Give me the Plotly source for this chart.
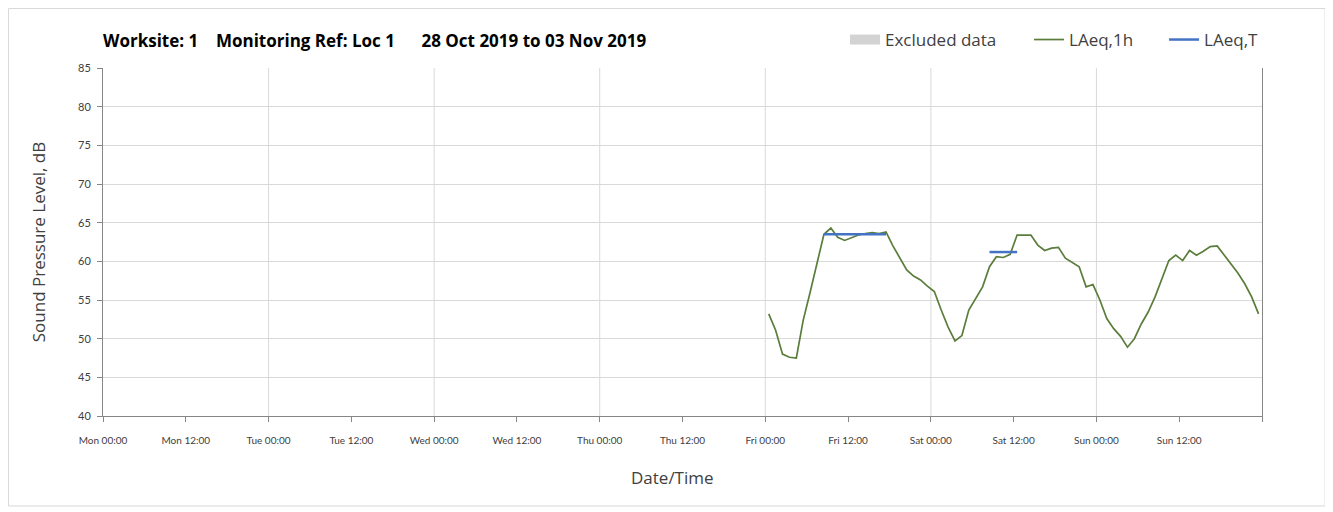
import plotly.graph_objects as go
import pandas as pd

# ---- data ----
hour_times = pd.date_range("2019-11-01 00:30", periods=72, freq="h")
laeq_1h = [53.2, 51.1, 48.0, 47.6, 47.5, 52.4, 56.0, 59.9, 63.5, 64.3,
           63.1, 62.7, 63.1, 63.4, 63.6, 63.7, 63.6, 63.8, 62.0, 60.5,
           58.9, 58.1, 57.6, 56.8, 56.1, 53.7, 51.5, 49.7, 50.4, 53.7,
           55.2, 56.7, 59.3, 60.6, 60.5, 60.9, 63.4, 63.4, 63.4, 62.1,
           61.4, 61.7, 61.8, 60.4, 59.9, 59.3, 56.7, 57.0, 55.0, 52.6,
           51.3, 50.3, 48.9, 50.0, 51.9, 53.45, 55.4, 57.8, 60.1, 60.8,
           60.1, 61.4, 60.8, 61.3, 61.9, 62.0, 60.8, 59.7, 58.5, 57.1,
           55.4, 53.2]
# LAeq,T periods: (first hour index, last hour index, level)
laeq_T_periods = [(8, 17, 63.5), (32, 36, 61.2)]
excluded_times = []
excluded_vals = []

week_start = "2019-10-28 00:00"
week_end = "2019-11-04 00:00"
x_tick_times = pd.date_range(week_start, week_end, freq="12h")
x_tick_labels = [t.strftime("%a %H:%M") for t in x_tick_times[:-1]] + [""]
day_lines = pd.date_range("2019-10-29", periods=6, freq="D")
y_ticks = list(range(40, 86, 5))

NB = "\u00a0"
title_text = "Worksite: 1" + NB * 4 + "Monitoring Ref: Loc 1" + NB * 6 + "28 Oct 2019 to 03 Nov 2019"

# build LAeq,T series with gaps
laeq_T = [None] * len(hour_times)
for a, b, v in laeq_T_periods:
    for i in range(a, b + 1):
        laeq_T[i] = v

FONT = "Open Sans"
TICKFONT = "Lato"
GREEN = "#5a7d3c"
BLUE = "#4472c4"

fig = go.Figure()
fig.add_trace(go.Scatter(x=excluded_times if excluded_times else [None],
                         y=excluded_vals if excluded_vals else [None],
                         name="Excluded data", mode="lines",
                         line=dict(color="#d3d3d3", width=10),
                         legend="legend"))
fig.add_trace(go.Scatter(x=hour_times, y=laeq_1h, name="LAeq,1h", mode="lines",
                         line=dict(color=GREEN, width=1.7), legend="legend2"))
fig.add_trace(go.Scatter(x=hour_times, y=laeq_T, name="LAeq,T", mode="lines",
                         line=dict(color=BLUE, width=2.5), connectgaps=False,
                         legend="legend3"))

shapes = []
for d in day_lines:
    shapes.append(dict(type="line", xref="x", yref="paper", x0=d, x1=d, y0=0, y1=1,
                       line=dict(color="#d9d9d9", width=1), layer="below"))
# outer chart border
shapes.append(dict(type="rect", xref="paper", yref="paper",
                   x0=-0.0815, x1=1.0544, y0=-0.2586, y1=1.171,
                   line=dict(color="#d9d9d9", width=1)))

legend_common = dict(orientation="h", y=1.0805, yanchor="middle", xanchor="left",
                     font=dict(family=FONT, size=17, color="#404040"),
                     bgcolor="rgba(0,0,0,0)", borderwidth=0)

fig.update_layout(
    width=1333, height=512,
    margin=dict(l=95, r=79, t=60, b=104),
    paper_bgcolor="white", plot_bgcolor="white",
    font=dict(family=FONT, color="#404040", size=11),
    title=dict(text=f"<b>{title_text}</b>", x=95 / 1333, xanchor="left",
               y=1 - 33 / 512, yanchor="middle",
               font=dict(family=FONT, size=17, color="#000000")),
    showlegend=True,
    legend=dict(x=0.6402, **legend_common),
    legend2=dict(x=0.799, **legend_common),
    legend3=dict(x=0.9155, **legend_common),
    shapes=shapes,
    annotations=[dict(text="Date/Time", xref="paper", yref="paper",
                      x=0.4918, y=-0.178, xanchor="center", yanchor="middle",
                      showarrow=False,
                      font=dict(family=FONT, size=17, color="#404040"))],
    xaxis=dict(type="date", range=[week_start, week_end],
               tickmode="array", tickvals=x_tick_times, ticktext=x_tick_labels,
               showgrid=False,
               ticks="outside", ticklen=5, tickcolor="#868686",
               ticklabelstandoff=10,
               showline=True, linecolor="#868686", linewidth=1,
               tickfont=dict(family=TICKFONT, size=10, color="#404040"),
               zeroline=False),
    yaxis=dict(range=[40, 85], tickvals=y_ticks, showgrid=True, gridcolor="#d9d9d9",
               ticks="outside", ticklen=5, tickcolor="#868686",
               ticklabelstandoff=4,
               showline=True, linecolor="#868686", linewidth=1, mirror=True,
               tickfont=dict(family=TICKFONT, size=11, color="#404040"),
               title=dict(text="Sound Pressure Level, dB",
                          font=dict(family=FONT, size=17, color="#404040"), standoff=28),
               zeroline=False),
)

fig.write_html("out.html")
